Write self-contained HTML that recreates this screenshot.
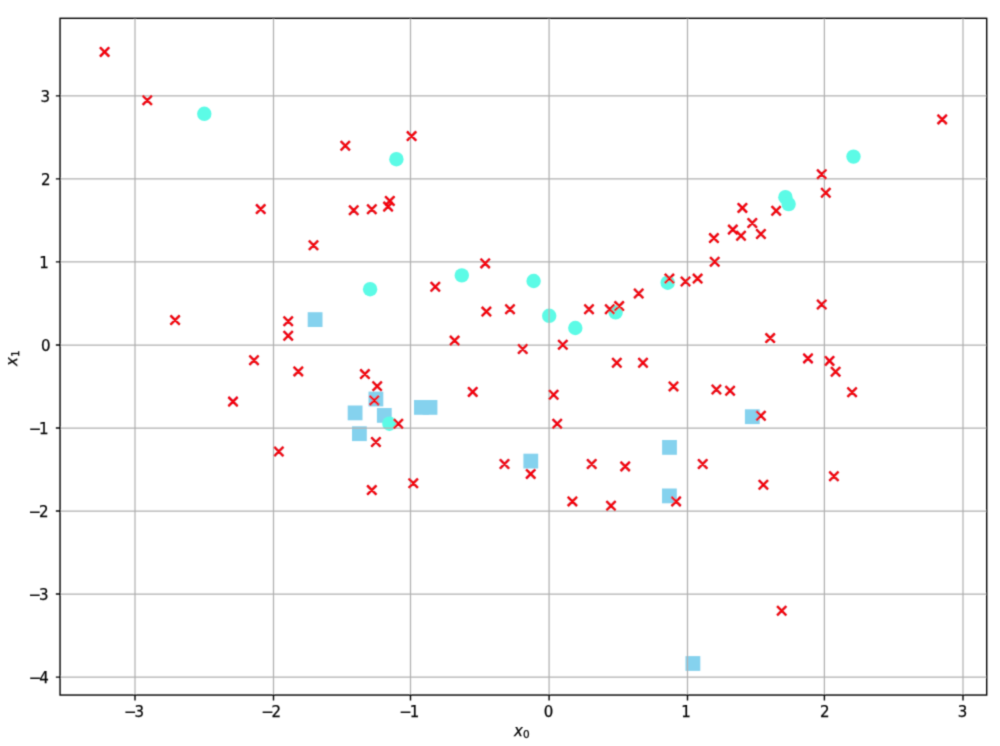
<!DOCTYPE html><html><head><meta charset="utf-8"><style>html,body{margin:0;padding:0;background:#fff;}svg{display:block;}text{font-family:"DejaVu Sans","Liberation Sans",sans-serif;fill:#000;stroke:#000;stroke-width:0.25px;}</style></head><body>
<svg width="1000" height="746" viewBox="0 0 1000 746">
<defs><filter id="bl" x="0" y="0" width="1000" height="746" filterUnits="userSpaceOnUse"><feConvolveMatrix order="3" kernelMatrix="1 4 1 4 16 4 1 4 1" divisor="36" edgeMode="duplicate"/></filter></defs>
<rect width="1000" height="746" fill="#fff"/>
<g filter="url(#bl)">
<g fill="#85d2ee">
<rect x="307.7" y="312.2" width="14.8" height="14.8"/>
<rect x="368.5" y="391.6" width="14.8" height="14.8"/>
<rect x="414" y="400" width="14.8" height="14.8"/>
<rect x="422.6" y="400" width="14.8" height="14.8"/>
<rect x="347.7" y="405.5" width="14.8" height="14.8"/>
<rect x="376.9" y="408" width="14.8" height="14.8"/>
<rect x="744.9" y="409.3" width="14.8" height="14.8"/>
<rect x="352" y="426.3" width="14.8" height="14.8"/>
<rect x="662.1" y="440" width="14.8" height="14.8"/>
<rect x="523.4" y="453.7" width="14.8" height="14.8"/>
<rect x="662" y="488.5" width="14.8" height="14.8"/>
<rect x="685.5" y="656.1" width="14.8" height="14.8"/>
</g>
<g fill="#5bfbe6">
<circle cx="204.3" cy="113.8" r="7.2"/>
<circle cx="396.4" cy="159.2" r="7.2"/>
<circle cx="853.5" cy="156.6" r="7.2"/>
<circle cx="785.4" cy="197.2" r="7.2"/>
<circle cx="788.6" cy="204.1" r="7.2"/>
<circle cx="461.8" cy="275.4" r="7.2"/>
<circle cx="533.6" cy="281" r="7.2"/>
<circle cx="667.7" cy="282.7" r="7.2"/>
<circle cx="370.1" cy="289.2" r="7.2"/>
<circle cx="615.6" cy="312.4" r="7.2"/>
<circle cx="549.2" cy="315.8" r="7.2"/>
<circle cx="575.3" cy="328" r="7.2"/>
<circle cx="389.4" cy="423.7" r="7.2"/>
</g>
<g stroke="#b0b0b0" stroke-width="1.25">
<line x1="135" y1="18.3" x2="135" y2="695.05"/>
<line x1="273.5" y1="18.3" x2="273.5" y2="695.05"/>
<line x1="410.5" y1="18.3" x2="410.5" y2="695.05"/>
<line x1="549.1" y1="18.3" x2="549.1" y2="695.05"/>
<line x1="687.5" y1="18.3" x2="687.5" y2="695.05"/>
<line x1="824.4" y1="18.3" x2="824.4" y2="695.05"/>
<line x1="963" y1="18.3" x2="963" y2="695.05"/>
<line x1="60.05" y1="95.9" x2="986.7" y2="95.9"/>
<line x1="60.05" y1="178.85" x2="986.7" y2="178.85"/>
<line x1="60.05" y1="261.9" x2="986.7" y2="261.9"/>
<line x1="60.05" y1="345.05" x2="986.7" y2="345.05"/>
<line x1="60.05" y1="428" x2="986.7" y2="428"/>
<line x1="60.05" y1="511" x2="986.7" y2="511"/>
<line x1="60.05" y1="594.05" x2="986.7" y2="594.05"/>
<line x1="60.05" y1="677.1" x2="986.7" y2="677.1"/>
</g>
<path d="M100 47.3L109.2 56.5M100 56.5L109.2 47.3M142.7 95.6L151.9 104.8M142.7 104.8L151.9 95.6M937.6 114.8L946.8 124M937.6 124L946.8 114.8M407 131.5L416.2 140.7M407 140.7L416.2 131.5M340.7 141.1L349.9 150.3M340.7 150.3L349.9 141.1M817.1 169.6L826.3 178.8M817.1 178.8L826.3 169.6M821.2 188.2L830.4 197.4M821.2 197.4L830.4 188.2M385.2 196.3L394.4 205.5M385.2 205.5L394.4 196.3M383.5 202L392.7 211.2M383.5 211.2L392.7 202M349.1 205.7L358.3 214.9M349.1 214.9L358.3 205.7M367.2 204.6L376.4 213.8M367.2 213.8L376.4 204.6M256.1 204.5L265.3 213.7M256.1 213.7L265.3 204.5M737.8 203.3L747 212.5M737.8 212.5L747 203.3M771.6 206.2L780.8 215.4M771.6 215.4L780.8 206.2M747.7 218.4L756.9 227.6M747.7 227.6L756.9 218.4M728.2 225L737.4 234.2M728.2 234.2L737.4 225M736.4 231.1L745.6 240.3M736.4 240.3L745.6 231.1M709.3 233.5L718.5 242.7M709.3 242.7L718.5 233.5M756.3 229.4L765.5 238.6M756.3 238.6L765.5 229.4M308.9 240.7L318.1 249.9M308.9 249.9L318.1 240.7M710.1 257.1L719.3 266.3M710.1 266.3L719.3 257.1M480.6 258.8L489.8 268M480.6 268L489.8 258.8M664.8 274L674 283.2M664.8 283.2L674 274M680.9 276.9L690.1 286.1M680.9 286.1L690.1 276.9M693 274L702.2 283.2M693 283.2L702.2 274M430.7 282.2L439.9 291.4M430.7 291.4L439.9 282.2M634.1 288.9L643.3 298.1M634.1 298.1L643.3 288.9M817.1 299.9L826.3 309.1M817.1 309.1L826.3 299.9M584.4 304.6L593.6 313.8M584.4 313.8L593.6 304.6M605.2 304.6L614.4 313.8M605.2 313.8L614.4 304.6M614.6 301.5L623.8 310.7M614.6 310.7L623.8 301.5M481.8 307L491 316.2M481.8 316.2L491 307M505.4 304.6L514.6 313.8M505.4 313.8L514.6 304.6M170.5 315.5L179.7 324.7M170.5 324.7L179.7 315.5M283.6 316.7L292.8 325.9M283.6 325.9L292.8 316.7M283.6 331.1L292.8 340.3M283.6 340.3L292.8 331.1M765.6 333.5L774.8 342.7M765.6 342.7L774.8 333.5M450 336L459.2 345.2M450 345.2L459.2 336M558.2 340.1L567.4 349.3M558.2 349.3L567.4 340.1M518.1 344.4L527.3 353.6M518.1 353.6L527.3 344.4M249.4 355.6L258.6 364.8M249.4 364.8L258.6 355.6M803.4 353.8L812.6 363M803.4 363L812.6 353.8M824.9 356.3L834.1 365.5M824.9 365.5L834.1 356.3M612.2 358.2L621.4 367.4M612.2 367.4L621.4 358.2M638.4 358.2L647.6 367.4M638.4 367.4L647.6 358.2M293.7 366.8L302.9 376M293.7 376L302.9 366.8M360.3 369.5L369.5 378.7M360.3 378.7L369.5 369.5M831 367.1L840.2 376.3M831 376.3L840.2 367.1M372.6 381.6L381.8 390.8M372.6 390.8L381.8 381.6M668.9 381.8L678.1 391M668.9 391L678.1 381.8M711.8 384.9L721 394.1M711.8 394.1L721 384.9M725.5 386.1L734.7 395.3M725.5 395.3L734.7 386.1M468.1 387.3L477.3 396.5M468.1 396.5L477.3 387.3M847.5 387.6L856.7 396.8M847.5 396.8L856.7 387.6M549 390.2L558.2 399.4M549 399.4L558.2 390.2M369.7 395.8L378.9 405M369.7 405L378.9 395.8M228.4 397L237.6 406.2M228.4 406.2L237.6 397M756.3 411.2L765.5 420.4M756.3 420.4L765.5 411.2M393.7 419.2L402.9 428.4M393.7 428.4L402.9 419.2M552.6 419.1L561.8 428.3M552.6 428.3L561.8 419.1M371.3 437.4L380.5 446.6M371.3 446.6L380.5 437.4M274.2 446.9L283.4 456.1M274.2 456.1L283.4 446.9M499.9 459.4L509.1 468.6M499.9 468.6L509.1 459.4M587.1 459.4L596.3 468.6M587.1 468.6L596.3 459.4M698.1 459.4L707.3 468.6M698.1 468.6L707.3 459.4M620.6 461.8L629.8 471M620.6 471L629.8 461.8M526.1 469.3L535.3 478.5M526.1 478.5L535.3 469.3M829.3 471.7L838.5 480.9M829.3 480.9L838.5 471.7M408.7 478.7L417.9 487.9M408.7 487.9L417.9 478.7M758.8 480.2L768 489.4M758.8 489.4L768 480.2M367.2 485.5L376.4 494.7M367.2 494.7L376.4 485.5M567.8 496.8L577 506M567.8 506L577 496.8M671.5 496.8L680.7 506M671.5 506L680.7 496.8M606.4 501.1L615.6 510.3M606.4 510.3L615.6 501.1M777.1 606.1L786.3 615.3M777.1 615.3L786.3 606.1" stroke="#d01e30" stroke-width="2.5" fill="none"/>
<path d="M100 47.3L109.2 56.5M100 56.5L109.2 47.3M142.7 95.6L151.9 104.8M142.7 104.8L151.9 95.6M937.6 114.8L946.8 124M937.6 124L946.8 114.8M407 131.5L416.2 140.7M407 140.7L416.2 131.5M340.7 141.1L349.9 150.3M340.7 150.3L349.9 141.1M817.1 169.6L826.3 178.8M817.1 178.8L826.3 169.6M821.2 188.2L830.4 197.4M821.2 197.4L830.4 188.2M385.2 196.3L394.4 205.5M385.2 205.5L394.4 196.3M383.5 202L392.7 211.2M383.5 211.2L392.7 202M349.1 205.7L358.3 214.9M349.1 214.9L358.3 205.7M367.2 204.6L376.4 213.8M367.2 213.8L376.4 204.6M256.1 204.5L265.3 213.7M256.1 213.7L265.3 204.5M737.8 203.3L747 212.5M737.8 212.5L747 203.3M771.6 206.2L780.8 215.4M771.6 215.4L780.8 206.2M747.7 218.4L756.9 227.6M747.7 227.6L756.9 218.4M728.2 225L737.4 234.2M728.2 234.2L737.4 225M736.4 231.1L745.6 240.3M736.4 240.3L745.6 231.1M709.3 233.5L718.5 242.7M709.3 242.7L718.5 233.5M756.3 229.4L765.5 238.6M756.3 238.6L765.5 229.4M308.9 240.7L318.1 249.9M308.9 249.9L318.1 240.7M710.1 257.1L719.3 266.3M710.1 266.3L719.3 257.1M480.6 258.8L489.8 268M480.6 268L489.8 258.8M664.8 274L674 283.2M664.8 283.2L674 274M680.9 276.9L690.1 286.1M680.9 286.1L690.1 276.9M693 274L702.2 283.2M693 283.2L702.2 274M430.7 282.2L439.9 291.4M430.7 291.4L439.9 282.2M634.1 288.9L643.3 298.1M634.1 298.1L643.3 288.9M817.1 299.9L826.3 309.1M817.1 309.1L826.3 299.9M584.4 304.6L593.6 313.8M584.4 313.8L593.6 304.6M605.2 304.6L614.4 313.8M605.2 313.8L614.4 304.6M614.6 301.5L623.8 310.7M614.6 310.7L623.8 301.5M481.8 307L491 316.2M481.8 316.2L491 307M505.4 304.6L514.6 313.8M505.4 313.8L514.6 304.6M170.5 315.5L179.7 324.7M170.5 324.7L179.7 315.5M283.6 316.7L292.8 325.9M283.6 325.9L292.8 316.7M283.6 331.1L292.8 340.3M283.6 340.3L292.8 331.1M765.6 333.5L774.8 342.7M765.6 342.7L774.8 333.5M450 336L459.2 345.2M450 345.2L459.2 336M558.2 340.1L567.4 349.3M558.2 349.3L567.4 340.1M518.1 344.4L527.3 353.6M518.1 353.6L527.3 344.4M249.4 355.6L258.6 364.8M249.4 364.8L258.6 355.6M803.4 353.8L812.6 363M803.4 363L812.6 353.8M824.9 356.3L834.1 365.5M824.9 365.5L834.1 356.3M612.2 358.2L621.4 367.4M612.2 367.4L621.4 358.2M638.4 358.2L647.6 367.4M638.4 367.4L647.6 358.2M293.7 366.8L302.9 376M293.7 376L302.9 366.8M360.3 369.5L369.5 378.7M360.3 378.7L369.5 369.5M831 367.1L840.2 376.3M831 376.3L840.2 367.1M372.6 381.6L381.8 390.8M372.6 390.8L381.8 381.6M668.9 381.8L678.1 391M668.9 391L678.1 381.8M711.8 384.9L721 394.1M711.8 394.1L721 384.9M725.5 386.1L734.7 395.3M725.5 395.3L734.7 386.1M468.1 387.3L477.3 396.5M468.1 396.5L477.3 387.3M847.5 387.6L856.7 396.8M847.5 396.8L856.7 387.6M549 390.2L558.2 399.4M549 399.4L558.2 390.2M369.7 395.8L378.9 405M369.7 405L378.9 395.8M228.4 397L237.6 406.2M228.4 406.2L237.6 397M756.3 411.2L765.5 420.4M756.3 420.4L765.5 411.2M393.7 419.2L402.9 428.4M393.7 428.4L402.9 419.2M552.6 419.1L561.8 428.3M552.6 428.3L561.8 419.1M371.3 437.4L380.5 446.6M371.3 446.6L380.5 437.4M274.2 446.9L283.4 456.1M274.2 456.1L283.4 446.9M499.9 459.4L509.1 468.6M499.9 468.6L509.1 459.4M587.1 459.4L596.3 468.6M587.1 468.6L596.3 459.4M698.1 459.4L707.3 468.6M698.1 468.6L707.3 459.4M620.6 461.8L629.8 471M620.6 471L629.8 461.8M526.1 469.3L535.3 478.5M526.1 478.5L535.3 469.3M829.3 471.7L838.5 480.9M829.3 480.9L838.5 471.7M408.7 478.7L417.9 487.9M408.7 487.9L417.9 478.7M758.8 480.2L768 489.4M758.8 489.4L768 480.2M367.2 485.5L376.4 494.7M367.2 494.7L376.4 485.5M567.8 496.8L577 506M567.8 506L577 496.8M671.5 496.8L680.7 506M671.5 506L680.7 496.8M606.4 501.1L615.6 510.3M606.4 510.3L615.6 501.1M777.1 606.1L786.3 615.3M777.1 615.3L786.3 606.1" stroke="#ff0000" stroke-width="1.3" fill="none"/>
<rect x="60.05" y="18.3" width="926.65" height="676.75" fill="none" stroke="#000" stroke-width="1.4"/>
<path d="M135 695.05V700.55M273.5 695.05V700.55M410.5 695.05V700.55M549.1 695.05V700.55M687.5 695.05V700.55M824.4 695.05V700.55M963 695.05V700.55M60.05 95.9H55.85M60.05 178.85H55.85M60.05 261.9H55.85M60.05 345.05H55.85M60.05 428H55.85M60.05 511H55.85M60.05 594.05H55.85M60.05 677.1H55.85" stroke="#000" stroke-width="1.4"/>
<g font-size="15.0">
<text x="134" y="716.6" text-anchor="middle">−<tspan dx="-2.2">3</tspan></text>
<text x="271.2" y="716.6" text-anchor="middle">−<tspan dx="-2.2">2</tspan></text>
<text x="409.3" y="716.6" text-anchor="middle">−<tspan dx="-2.2">1</tspan></text>
<text x="548.6" y="716.6" text-anchor="middle">0</text>
<text x="685.9" y="716.6" text-anchor="middle">1</text>
<text x="824.8" y="716.6" text-anchor="middle">2</text>
<text x="962.6" y="716.6" text-anchor="middle">3</text>
<text x="50" y="101.8" text-anchor="end">3</text>
<text x="50.5" y="184.75" text-anchor="end">2</text>
<text x="48.8" y="267.8" text-anchor="end">1</text>
<text x="50.5" y="350.95" text-anchor="end">0</text>
<text x="48.6" y="433.9" text-anchor="end">−<tspan dx="-2.2">1</tspan></text>
<text x="48.5" y="516.9" text-anchor="end">−<tspan dx="-2.2">2</tspan></text>
<text x="48.5" y="599.95" text-anchor="end">−<tspan dx="-2.2">3</tspan></text>
<text x="48.7" y="683" text-anchor="end">−<tspan dx="-2.2">4</tspan></text>
</g>
<text x="514" y="736" font-size="15.0"><tspan font-style="italic">x</tspan><tspan font-size="10.5" dy="2.4">0</tspan></text>
<text transform="translate(17.1 366) rotate(-90)" font-size="15.0"><tspan font-style="italic">x</tspan><tspan font-size="10.5" dy="1.8">1</tspan></text>
</g>
</svg></body></html>
